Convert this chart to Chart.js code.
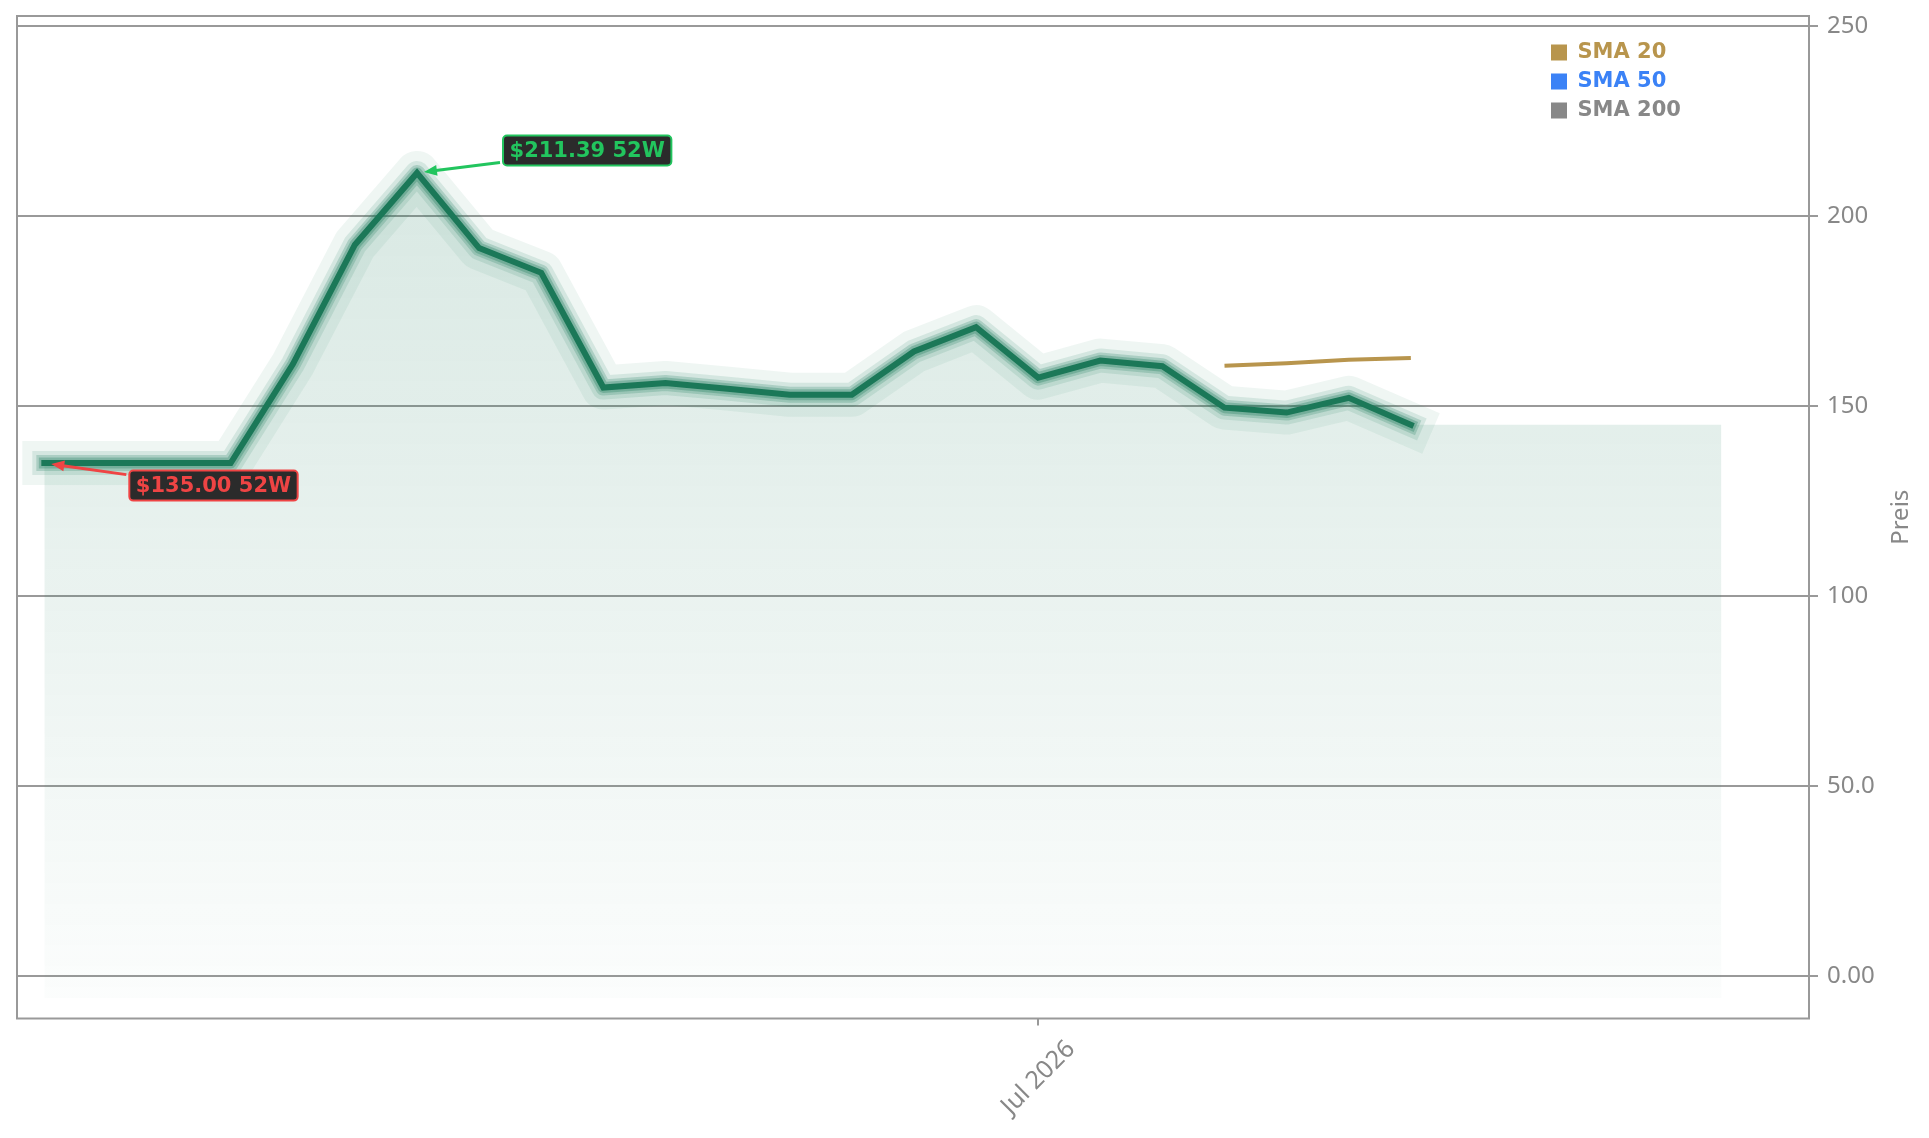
<!DOCTYPE html>
<html>
<head>
<meta charset="utf-8">
<script src="https://cdn.jsdelivr.net/npm/chart.js@4/dist/chart.umd.min.js"></script>
<style>
html,body{margin:0;padding:0;background:#ffffff;overflow:hidden}
canvas{display:block}
</style>
</head>
<body>
<canvas id="c" width="1929" height="1138"></canvas>
<script>
// ---- data ----
const dates = ['2026-03-11','2026-03-18','2026-03-25','2026-04-01','2026-04-08','2026-04-15','2026-04-22',
  '2026-04-29','2026-05-06','2026-05-13','2026-05-20','2026-05-27','2026-06-03','2026-06-10','2026-06-17',
  '2026-06-24','2026-07-01','2026-07-08','2026-07-15','2026-07-22','2026-07-29','2026-08-05','2026-08-12',
  '2026-08-19','2026-08-26','2026-09-02','2026-09-09','2026-09-16'];
const prices = [135.00,135.00,135.00,135.00,161.0,192.5,211.39,191.6,185.1,154.9,156.1,154.6,153.0,153.0,
  164.4,170.8,157.5,162.0,160.5,149.6,148.3,152.2,145.1];
const areaValues = [135.00,135.00,135.00,135.00,161.0,192.5,211.39,191.6,185.1,154.9,156.1,154.6,153.0,153.0,
  164.4,170.8,157.5,162.0,160.5,149.6,148.3,152.2,145.1,145.1,145.1,145.1,145.1,145.1];
const sma20 = [null,null,null,null,null,null,null,null,null,null,null,null,null,null,null,null,null,null,null,
  160.6,161.3,162.2,162.7];
const sma50 = [];
const sma200 = [];
const seriesNames = ['SMA 20','SMA 50','SMA 200'];
const seriesColors = ['#b8954d','#3b82f6','#888888'];
const yTickValues = [0,50,100,150,200,250];
const xTickDates = ['2026-07-01'];
const xTickLabels = ['Jul 2026'];
const yTitle = 'Preis';
const rangeLabel = '52W';

// ---- styling ----
const GREEN = '28,122,90';
const LINE = '#1b7858';
const GRID = '#999999';
const TEXT = '#888888';
const glowWidths = [44, 24, 16, 11];
const glowAlphas = [0.07, 0.13, 0.22, 0.3];

const toXY = arr => arr.map((v, i) => ({x: i, y: v}));

Chart.defaults.font.family = '"Noto Sans", sans-serif';

const datasets = [];
[sma20, sma50, sma200].forEach((arr, k) => {
  datasets.push({label: seriesNames[k], data: toXY(arr), borderColor: seriesColors[k],
    backgroundColor: seriesColors[k], borderWidth: 4, pointRadius: 0, fill: false, order: 0, tension: 0});
});
datasets.push({label: 'Preis', data: toXY(prices), borderColor: LINE, borderWidth: 6, pointRadius: 0,
  fill: false, order: 1, tension: 0, borderCapStyle: 'square', borderJoinStyle: 'miter'});
glowWidths.forEach((w, k) => {
  datasets.push({label: 'glow' + k, data: toXY(prices), borderColor: `rgba(${GREEN},${glowAlphas[k]})`,
    borderWidth: w, pointRadius: 0, fill: false, order: 6 - k, tension: 0,
    borderCapStyle: 'square', borderJoinStyle: 'round'});
});
datasets.push({label: 'area', data: toXY(areaValues), borderWidth: 0, borderColor: 'rgba(0,0,0,0)',
  pointRadius: 0, tension: 0, order: 20, fill: {value: -5.8},
  backgroundColor: (c) => {
    const a = c.chart.chartArea;
    if (!a) return 'rgba(0,0,0,0)';
    const g = c.chart.ctx.createLinearGradient(0, a.top, 0, a.bottom);
    g.addColorStop(0, `rgba(${GREEN},0.2)`);
    g.addColorStop(1, `rgba(${GREEN},0.012)`);
    return g;
  }});

const framePlugin = {
  id: 'frame',
  beforeDatasetsDraw(chart) {
    const {ctx, chartArea: a} = chart;
    ctx.save();
    ctx.strokeStyle = GRID;
    ctx.lineWidth = 2;
    ctx.strokeRect(a.left, a.top, a.right - a.left, a.bottom - a.top);
    ctx.restore();
  }
};

const legendPlace = {
  id: 'legendPlace',
  afterLayout(chart) {
    const lg = chart.legend, a = chart.chartArea;
    const w = lg.width, h = lg.height;
    lg.left = a.right - 266;
    lg.top = a.top + 18;
    lg.right = lg.left + w;
    lg.bottom = lg.top + h;
  }
};

const titlePlugin = {
  id: 'ytitle',
  afterDraw(chart) {
    const {ctx, chartArea: a} = chart;
    ctx.save();
    ctx.translate(a.right + 92, (a.top + a.bottom) / 2);
    ctx.rotate(-Math.PI / 2);
    ctx.font = '24px "Noto Sans"';
    ctx.fillStyle = TEXT;
    ctx.textAlign = 'center';
    ctx.textBaseline = 'middle';
    ctx.fillText(yTitle, 0, 0);
    ctx.restore();
  }
};

const annotPlugin = {
  id: 'annot',
  afterDatasetsDraw(chart) {
    const ctx = chart.ctx, xs = chart.scales.x, ys = chart.scales.y;
    let hi = 0, lo = 0;
    prices.forEach((v, i) => { if (v > prices[hi]) hi = i; if (v < prices[lo]) lo = i; });
    const draw = (i, color, dx, dy) => {
      const px = xs.getPixelForValue(i), py = ys.getPixelForValue(prices[i]);
      ctx.save();
      ctx.font = 'bold 21px "DejaVu Sans"';
      const text = '$' + prices[i].toFixed(2) + ' ' + rangeLabel;
      const tw = ctx.measureText(text).width;
      const bw = tw + 13, bh = 30;
      const bx = px + dx, by = py + dy;
      const sx = bx - 3, sy = dy < 0 ? by + bh - 3 : by + 4;
      let ux = sx - px, uy = sy - py;
      const len = Math.hypot(ux, uy); ux /= len; uy /= len;
      const tx = px + 7 * ux, ty = py + 7 * uy;
      ctx.strokeStyle = color; ctx.fillStyle = color; ctx.lineWidth = 3;
      ctx.beginPath(); ctx.moveTo(sx, sy); ctx.lineTo(tx + 10 * ux, ty + 10 * uy); ctx.stroke();
      const nx = -uy, ny = ux;
      ctx.beginPath();
      ctx.moveTo(tx, ty);
      ctx.lineTo(tx + 13 * ux + 5.5 * nx, ty + 13 * uy + 5.5 * ny);
      ctx.lineTo(tx + 13 * ux - 5.5 * nx, ty + 13 * uy - 5.5 * ny);
      ctx.closePath(); ctx.fill();
      ctx.beginPath();
      ctx.roundRect(bx, by, bw, bh, 4);
      ctx.fillStyle = '#2b2b2b';
      ctx.fill();
      ctx.lineWidth = 2; ctx.strokeStyle = color; ctx.stroke();
      ctx.fillStyle = color;
      ctx.textAlign = 'center'; ctx.textBaseline = 'middle';
      ctx.fillText(text, bx + bw / 2, by + bh / 2 + 1);
      ctx.restore();
    };
    draw(hi, '#22c55e', 86, -37.5);
    draw(lo, '#ef4444', 85, 7.5);
  }
};

new Chart(document.getElementById('c'), {
  type: 'line',
  data: {datasets},
  options: {
    responsive: false,
    animation: false,
    devicePixelRatio: 1,
    events: [],
    layout: {padding: {left: 17, top: 16, right: 0, bottom: 0}},
    scales: {
      x: {
        type: 'linear', min: -0.44, max: 28.41,
        afterBuildTicks: s => { s.ticks = xTickDates.map(d => ({value: dates.indexOf(d)})); },
        afterFit: s => { s.height = 119.5; s.paddingLeft = 0; s.paddingRight = 0; },
        grid: {drawOnChartArea: false, drawTicks: true, tickLength: 7, color: GRID, lineWidth: 2},
        border: {display: false},
        ticks: {color: TEXT, font: {size: 25}, minRotation: 45, maxRotation: 45, autoSkip: false,
          labelOffset: 33, padding: 9,
          callback: (v, idx) => xTickLabels[idx]}
      },
      y: {
        position: 'right', min: -11.2, max: 252.7,
        afterBuildTicks: s => { s.ticks = yTickValues.map(v => ({value: v})); },
        afterFit: s => { s.width = 120; s.paddingTop = 0; s.paddingBottom = 0; },
        grid: {color: GRID, lineWidth: 2, tickLength: 9, drawTicks: true},
        border: {display: false},
        ticks: {color: TEXT, font: {size: 24}, padding: 9, callback: v => Number(v).toPrecision(3)}
      }
    },
    plugins: {
      tooltip: {enabled: false},
      legend: {
        position: 'chartArea', align: 'start',
        labels: {
          boxWidth: 16, boxHeight: 16, padding: 8,
          font: {family: '"DejaVu Sans"', weight: 'bold', size: 21},
          generateLabels: chart => chart.data.datasets
            .map((ds, i) => ({text: ds.label, fillStyle: ds.borderColor, strokeStyle: ds.borderColor,
              lineWidth: 0, fontColor: ds.borderColor, hidden: false, datasetIndex: i}))
            .filter(it => seriesNames.includes(it.text))
        }
      }
    }
  },
  plugins: [framePlugin, legendPlace, titlePlugin, annotPlugin]
});
</script>
</body>
</html>
